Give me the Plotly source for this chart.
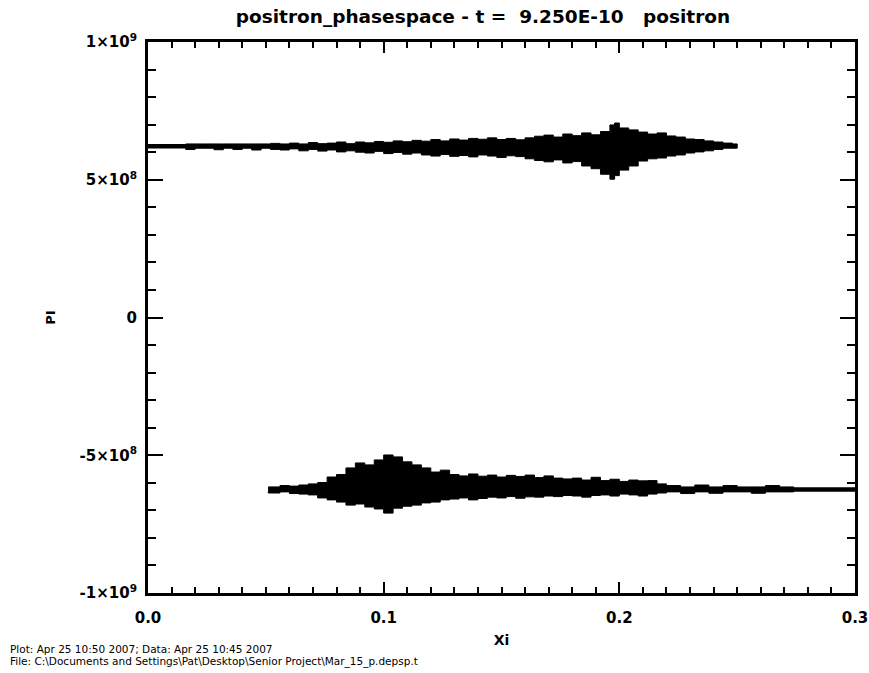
import plotly.graph_objects as go

# ---- data (values in units of 1e8) ----
# upper (forward-moving) positron band
up_core_xi = [0.0, 0.25]
up_core_p = [6.22, 6.22]
up_xi = [0.016, 0.020, 0.024, 0.028, 0.032, 0.036, 0.040, 0.044, 0.048, 0.052, 0.056,
         0.060, 0.064, 0.068, 0.072, 0.076, 0.080, 0.084, 0.088, 0.092, 0.096,
         0.100, 0.104, 0.108, 0.112, 0.116, 0.120, 0.124, 0.128, 0.132, 0.136,
         0.140, 0.144, 0.148, 0.152, 0.156, 0.160, 0.164, 0.168, 0.172, 0.176,
         0.180, 0.184, 0.188, 0.192, 0.196, 0.198, 0.200, 0.204, 0.208, 0.212,
         0.216, 0.220, 0.224, 0.228, 0.232, 0.236, 0.240, 0.244, 0.248, 0.250]
up_top = [6.30, 6.30, 6.30, 6.30, 6.30, 6.30, 6.30, 6.30, 6.30, 6.32, 6.30,
          6.33, 6.30, 6.35, 6.31, 6.33, 6.37, 6.31, 6.37, 6.34, 6.39,
          6.36, 6.41, 6.38, 6.43, 6.40, 6.46, 6.41, 6.48, 6.44, 6.50,
          6.47, 6.52, 6.46, 6.50, 6.45, 6.52, 6.58, 6.62, 6.55, 6.66,
          6.60, 6.70, 6.63, 6.75, 6.99, 7.06, 6.88, 6.81, 6.73, 6.66,
          6.70, 6.59, 6.55, 6.48, 6.46, 6.41, 6.37, 6.33, 6.30, 6.30]
up_bot = [6.15, 6.10, 6.15, 6.15, 6.09, 6.15, 6.10, 6.15, 6.08, 6.15, 6.10,
          6.08, 6.12, 6.05, 6.10, 6.04, 6.08, 6.01, 6.05, 6.00, 5.97,
          6.03, 5.95, 5.99, 5.93, 5.97, 5.90, 5.86, 5.92, 5.85, 5.88,
          5.83, 5.90, 5.86, 5.81, 5.87, 5.84, 5.76, 5.70, 5.65, 5.72,
          5.61, 5.66, 5.50, 5.40, 5.20, 5.02, 5.15, 5.35, 5.50, 5.68,
          5.76, 5.79, 5.86, 5.90, 5.97, 6.01, 6.05, 6.10, 6.15, 6.15]

# lower (backward-moving) positron band
lo_core_xi = [0.051, 0.30]
lo_core_p = [-6.24, -6.24]
lo_xi = [0.051, 0.056, 0.060, 0.064, 0.068, 0.072, 0.076, 0.080, 0.084, 0.088,
         0.092, 0.096, 0.100, 0.104, 0.108, 0.112, 0.116, 0.120, 0.124, 0.128,
         0.132, 0.136, 0.140, 0.144, 0.148, 0.152, 0.156, 0.160, 0.164, 0.168,
         0.172, 0.176, 0.180, 0.184, 0.188, 0.192, 0.196, 0.200, 0.204, 0.208,
         0.212, 0.216, 0.220, 0.226, 0.232, 0.238, 0.244, 0.250, 0.256, 0.262,
         0.268, 0.274]
lo_top = [-6.15, -6.10, -6.12, -6.08, -6.04, -5.99, -5.79, -5.70, -5.46, -5.28,
          -5.35, -5.17, -4.99, -5.06, -5.24, -5.35, -5.46, -5.61, -5.54, -5.70,
          -5.75, -5.68, -5.76, -5.72, -5.79, -5.73, -5.77, -5.72, -5.81, -5.75,
          -5.83, -5.86, -5.83, -5.90, -5.80, -5.92, -5.87, -5.95, -5.90, -5.93,
          -5.92, -6.04, -6.10, -6.15, -6.08, -6.15, -6.10, -6.15, -6.15, -6.10,
          -6.15, -6.15]
lo_bot = [-6.33, -6.37, -6.33, -6.39, -6.41, -6.44, -6.55, -6.62, -6.70, -6.81,
          -6.77, -6.88, -6.95, -7.10, -6.92, -6.85, -6.81, -6.73, -6.70, -6.62,
          -6.59, -6.55, -6.62, -6.57, -6.52, -6.55, -6.50, -6.56, -6.51, -6.52,
          -6.48, -6.50, -6.46, -6.48, -6.52, -6.46, -6.44, -6.48, -6.41, -6.44,
          -6.48, -6.41, -6.37, -6.33, -6.39, -6.33, -6.38, -6.33, -6.33, -6.38,
          -6.33, -6.33]

y_tickvals = [-10, -5, 0, 5, 10]
y_ticktext = ["-1×10<sup>9</sup>", "-5×10<sup>8</sup>", "0",
              "5×10<sup>8</sup>", "1×10<sup>9</sup>"]
x_tickvals = [0.0, 0.1, 0.2, 0.3]
x_ticktext = ["0.0", "0.1", "0.2", "0.3"]

SCALE = 1e8

fig = go.Figure()


def band(xs, tops, bots):
    px = list(xs) + list(xs)[::-1]
    py = [v * SCALE for v in tops] + [v * SCALE for v in bots][::-1]
    return go.Scatter(x=px, y=py, mode="lines", fill="toself",
                      fillcolor="black", line=dict(color="black", width=1, shape="hv"),
                      hoverinfo="skip", showlegend=False)


fig.add_trace(go.Scatter(x=up_core_xi, y=[v * SCALE for v in up_core_p], mode="lines",
                         line=dict(color="black", width=4.5), showlegend=False))
fig.add_trace(go.Scatter(x=lo_core_xi, y=[v * SCALE for v in lo_core_p], mode="lines",
                         line=dict(color="black", width=4.5), showlegend=False))
fig.add_trace(band(up_xi, up_top, up_bot))
fig.add_trace(band(lo_xi, lo_top, lo_bot))

font = "DejaVu Sans, Liberation Sans, sans-serif"

fig.update_layout(
    width=869, height=673,
    margin=dict(l=148, r=14, t=42, b=80, autoexpand=False),
    paper_bgcolor="white", plot_bgcolor="white",
    font=dict(family=font, color="black", size=15),
    title=dict(text="<b>positron_phasespace - t =&nbsp;&nbsp;9.250E-10&nbsp;&nbsp;&nbsp;positron</b>",
               x=483 / 869, xanchor="center", y=1 - 17 / 673, yanchor="middle",
               font=dict(size=18.5, family=font, color="black")),
    showlegend=False,
)

fig.update_xaxes(
    range=[0.0, 0.3], showgrid=False, zeroline=False, automargin=False,
    showline=True, linecolor="black", linewidth=3, mirror="allticks",
    ticks="inside", ticklen=11, tickwidth=2, tickcolor="black",
    tickvals=x_tickvals, ticktext=["<b>%s</b>" % t for t in x_ticktext],
    tickfont=dict(size=15, family=font), ticklabelstandoff=9,
    minor=dict(ticks="inside", dtick=0.01, tick0=0, ticklen=6, tickwidth=2, tickcolor="black"),
    title=dict(text="<b>Xi</b>", font=dict(size=14, family=font), standoff=10),
)
fig.update_yaxes(
    range=[-1e9, 1e9], showgrid=False, zeroline=False, automargin=False,
    showline=True, linecolor="black", linewidth=3, mirror="allticks",
    ticks="inside", ticklen=15, tickwidth=2, tickcolor="black",
    tickvals=[v * SCALE for v in y_tickvals], ticktext=["<b>%s</b>" % t for t in y_ticktext],
    tickfont=dict(size=15, family=font), ticklabelstandoff=5,
    minor=dict(ticks="inside", dtick=1e8, tick0=0, ticklen=8, tickwidth=2, tickcolor="black"),
    title=dict(text="<b>PI</b>", font=dict(size=13, family=font), standoff=22),
)

fig.add_annotation(text="Plot: Apr 25 10:50 2007; Data: Apr 25 10:45 2007",
                   xref="paper", yref="paper", x=-140 / 707, y=-(649 - 593) / 551,
                   xanchor="left", yanchor="middle", showarrow=False,
                   font=dict(size=10.5, family=font, color="black"))
fig.add_annotation(text="File: C:\\Documents and Settings\\Pat\\Desktop\\Senior Project\\Mar_15_p.depsp.t",
                   xref="paper", yref="paper", x=-140 / 707, y=-(661 - 593) / 551,
                   xanchor="left", yanchor="middle", showarrow=False,
                   font=dict(size=10.5, family=font, color="black"))

fig.write_html("out.html")
